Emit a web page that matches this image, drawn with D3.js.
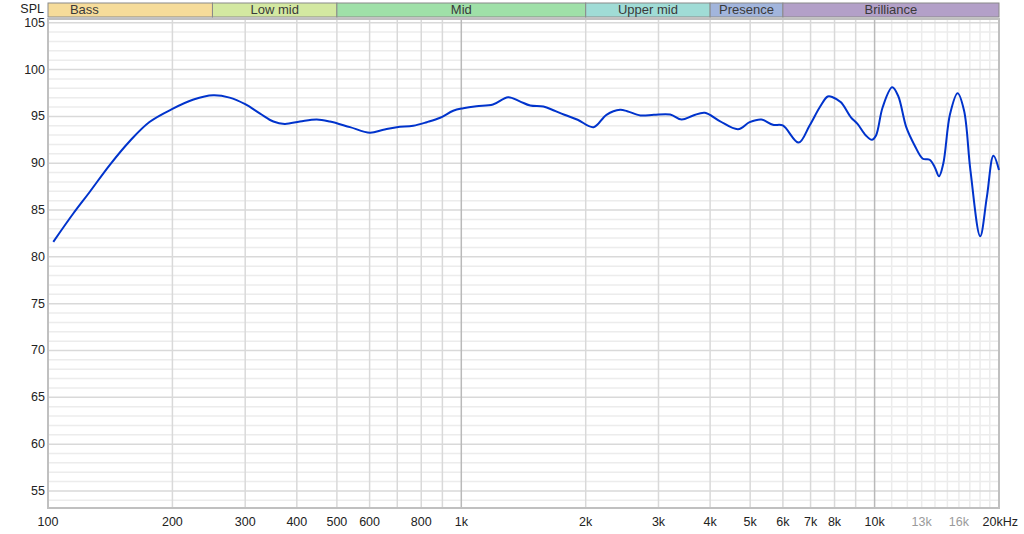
<!DOCTYPE html>
<html>
<head>
<meta charset="utf-8">
<script src="https://cdn.jsdelivr.net/npm/d3@7"></script>
<style>
  body { margin: 0; background: #fff; }
  svg { display: block; font-family: "Liberation Sans", Arial, sans-serif; }
</style>
</head>
<body>
<div id="chart"></div>
<script>
// frequency response
var freqs = [103, 115, 126, 141, 158, 176, 200, 225, 251, 275, 300, 326, 351, 374, 407, 447, 481,
    538, 601, 648, 698, 765, 825, 889, 956, 1011, 1088, 1193, 1298, 1385, 1468, 1580, 1676, 1776,
    1912, 2090, 2245, 2422, 2520, 2713, 2924, 3202, 3413, 3641, 3885, 4220, 4673, 4986, 5320, 5676,
    5995, 6550, 6963, 7386, 7702, 7918, 8291, 8765, 9092, 9528, 9850, 10080, 10460, 11030, 11400,
    11930, 12500, 13080, 13590, 13980, 14320, 14660, 15230, 15880, 16460, 17060, 18010, 18690, 19390, 20000];
var spl = [81.6, 84.6, 86.9, 89.8, 92.4, 94.4, 95.8, 96.8, 97.25, 97.0, 96.3, 95.3, 94.45, 94.2, 94.45, 94.67, 94.45,
    93.85, 93.25, 93.57, 93.85, 94.0, 94.38, 94.85, 95.6, 95.87, 96.09, 96.27, 97.05, 96.6, 96.16, 96.05, 95.63, 95.17,
    94.64, 93.85, 95.17, 95.7, 95.55, 95.1, 95.17, 95.2, 94.67, 95.1, 95.38, 94.5, 93.63, 94.38, 94.67, 94.1,
    94.03, 92.2, 94.03, 96.05, 97.12, 97.05, 96.5, 94.9, 94.2, 92.96, 92.5, 92.96, 95.98, 98.1, 97.2,
    93.85, 91.9, 90.48, 90.37, 89.58, 88.6, 89.94, 95.27, 97.47, 95.63, 89.2, 82.2, 86.38, 90.8, 89.28];

// bass band starts below the plotted range, so it gets clipped at 100 Hz
var bandNames = ["Bass", "Low mid", "Mid", "Upper mid", "Presence", "Brilliance"];
var bandEdges = [60, 250, 500, 2000, 4000, 6000, 20000];
var bandColors = ["#f6dc9a", "#d3e8a1", "#9fe0a8", "#a0dcd6", "#a2b5dc", "#b3a0c8"];

var xTicks = [100, 200, 300, 400, 500, 600, 800, 1000, 2000, 3000, 4000, 5000, 6000, 7000, 8000, 10000, 13000, 16000, 20000];
var xTickLabels = ["100", "200", "300", "400", "500", "600", "800", "1k", "2k", "3k", "4k", "5k", "6k", "7k", "8k", "10k", "13k", "16k", "20kHz"];
var yTicks = [55, 60, 65, 70, 75, 80, 85, 90, 95, 100, 105];

var width = 1024, height = 534;
var margin = {top: 19, right: 25, bottom: 26, left: 48};
var plotW = width - margin.left - margin.right;
var plotH = height - margin.top - margin.bottom;

var svg = d3.select("#chart").append("svg")
    .attr("width", width)
    .attr("height", height);

var x = d3.scaleLog().domain([100, 20000]).range([margin.left, margin.left + plotW]);
var y = d3.scaleLinear().domain([53.18, 105.4]).range([margin.top + plotH, margin.top]);

// band header
var bands = svg.append("g");
for (var i = 0; i < bandNames.length; i++) {
    var x0 = x(bandEdges[i]), x1 = x(bandEdges[i + 1]);
    var r0 = Math.max(x0, margin.left);
    bands.append("rect")
        .attr("x", r0).attr("y", 3)
        .attr("width", x1 - r0).attr("height", 14)
        .attr("fill", bandColors[i])
        .attr("stroke", "#8a8a8a").attr("stroke-width", 1);
    bands.append("text")
        .attr("x", (x0 + x1) / 2).attr("y", 14)
        .attr("text-anchor", "middle")
        .attr("font-size", 13)
        .attr("fill", "#3a3a3a")
        .text(bandNames[i]);
}

// minor horizontal grid every 1 dB
var grid = svg.append("g");
d3.range(54, 106).forEach(function(d) {
    if (d % 5 === 0) return;
    grid.append("line")
        .attr("x1", margin.left).attr("x2", margin.left + plotW)
        .attr("y1", y(d)).attr("y2", y(d))
        .attr("stroke", "#ececec").attr("stroke-width", 1.5);
});

// light vertical lines above 10k
d3.range(11000, 20000, 1000).forEach(function(f) {
    grid.append("line")
        .attr("x1", x(f)).attr("x2", x(f))
        .attr("y1", margin.top).attr("y2", margin.top + plotH)
        .attr("stroke", "#ececec").attr("stroke-width", 1.5);
});

yTicks.forEach(function(d) {
    grid.append("line")
        .attr("x1", margin.left).attr("x2", margin.left + plotW)
        .attr("y1", y(d)).attr("y2", y(d))
        .attr("stroke", "#d9d9d9").attr("stroke-width", 1.5);
});

var vMajor = [200, 300, 400, 500, 600, 700, 800, 900, 2000, 3000, 4000, 5000, 6000, 7000, 8000, 9000];
vMajor.forEach(function(f) {
    grid.append("line")
        .attr("x1", x(f)).attr("x2", x(f))
        .attr("y1", margin.top).attr("y2", margin.top + plotH)
        .attr("stroke", "#d9d9d9").attr("stroke-width", 1.5);
});
[1000, 10000].forEach(function(f) {
    grid.append("line")
        .attr("x1", x(f)).attr("x2", x(f))
        .attr("y1", margin.top).attr("y2", margin.top + plotH)
        .attr("stroke", "#b9b9b9").attr("stroke-width", 1.5);
});

// plot frame
svg.append("rect")
    .attr("x", margin.left).attr("y", margin.top)
    .attr("width", plotW).attr("height", plotH)
    .attr("fill", "none")
    .attr("stroke", "#c0c0c0").attr("stroke-width", 2);

// axes labels
svg.append("text")
    .attr("x", 44).attr("y", 13)
    .attr("text-anchor", "end")
    .attr("font-size", 12.5).attr("fill", "#222")
    .text("SPL");

yTicks.forEach(function(d) {
    svg.append("text")
        .attr("x", 45).attr("y", y(d) + 4)
        .attr("text-anchor", "end")
        .attr("font-size", 12.5).attr("fill", "#222")
        .text(d);
});

xTicks.forEach(function(f, i) {
    var lbl = xTickLabels[i];
    var anchor = "middle", xx = x(f);
    if (f === 20000) { anchor = "end"; xx = width - 6; }
    svg.append("text")
        .attr("x", xx).attr("y", 526)
        .attr("text-anchor", anchor)
        .attr("font-size", 12.5)
        .attr("fill", (f === 13000 || f === 16000) ? "#9a9a9a" : "#222")
        .text(lbl);
});

// response curve
var pts = freqs.map(function(f, i) { return [f, spl[i]]; });
var line = d3.line()
    .x(function(d) { return x(d[0]); })
    .y(function(d) { return y(d[1]); })
    .curve(d3.curveCatmullRom.alpha(0.5));

svg.append("path")
    .datum(pts)
    .attr("d", line)
    .attr("fill", "none")
    .attr("stroke", "#0033cc")
    .attr("stroke-width", 2);
</script>
</body>
</html>
